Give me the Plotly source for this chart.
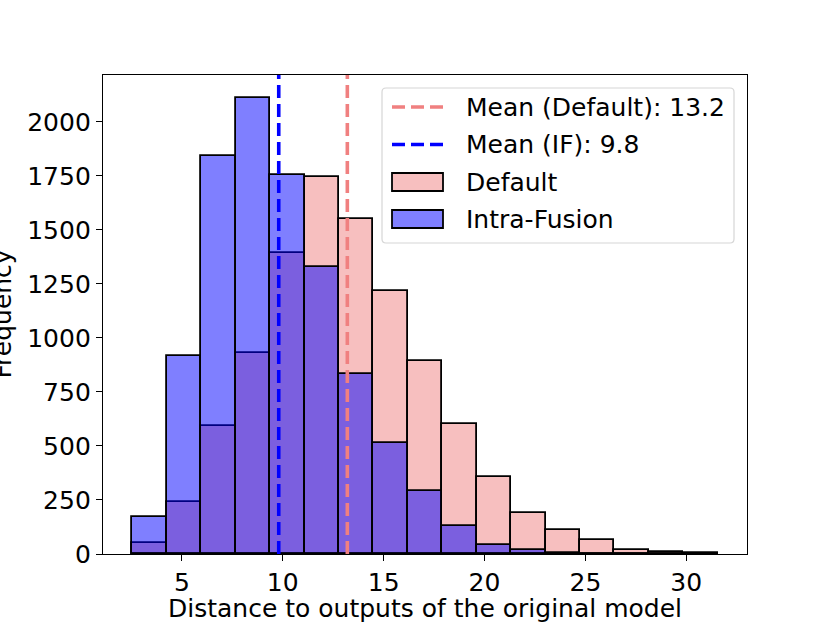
import plotly.graph_objects as go

# histogram bin edges (shared by both runs)
bin_edges = [2.54, 4.25, 5.95, 7.66, 9.37, 11.08, 12.78, 14.49, 16.20, 17.90,
             19.61, 21.32, 23.03, 24.73, 26.44, 28.15, 29.85, 31.56]

# counts per bin
default_counts = [51, 241, 593, 928, 1395, 1745, 1548, 1219, 895, 602,
                  355, 192, 111, 63, 20, 9, 3]
intra_fusion_counts = [171, 918, 1841, 2111, 1753, 1329, 833, 512, 292, 128,
                       40, 19, 5, 1, 0, 0, 0]

mean_default = 13.2
mean_if = 9.8

x_ticks = [5, 10, 15, 20, 25, 30]
y_ticks = [0, 250, 500, 750, 1000, 1250, 1500, 1750, 2000]

W, H = 830, 623
L, R, T, B = 103, 83, 75, 69

PINK = "rgba(240,128,128,0.5)"
BLUE = "rgba(0,0,255,0.5)"
PINK_LINE = "#F08080"
BLUE_LINE = "blue"
DASH = "13px,6px"

centers = [(a + b) / 2 for a, b in zip(bin_edges[:-1], bin_edges[1:])]
widths = [b - a for a, b in zip(bin_edges[:-1], bin_edges[1:])]

y_top = max(max(default_counts), max(intra_fusion_counts)) * 1.05
span = bin_edges[-1] - bin_edges[0]
x_range = [bin_edges[0] - 0.05 * span, bin_edges[-1] + 0.05 * span]

font = dict(family="DejaVu Sans", size=25, color="black")


def px(x, y):
    # pixel position on the page -> paper coords of the plot area
    return (x - L) / (W - L - R), 1 - (y - T) / (H - T - B)


fig = go.Figure()

fig.add_trace(go.Bar(
    x=centers, y=default_counts, width=widths, name="Default",
    marker=dict(color=PINK, line=dict(color="black", width=1.8)),
))
fig.add_trace(go.Bar(
    x=centers, y=intra_fusion_counts, width=widths, name="Intra-Fusion",
    marker=dict(color=BLUE, line=dict(color="black", width=1.8)),
))
fig.add_trace(go.Scatter(
    x=[mean_default, mean_default], y=[0, y_top], mode="lines",
    name=f"Mean (Default): {mean_default}",
    line=dict(color=PINK_LINE, width=3.6, dash=DASH),
))
fig.add_trace(go.Scatter(
    x=[mean_if, mean_if], y=[0, y_top], mode="lines",
    name=f"Mean (IF): {mean_if}",
    line=dict(color=BLUE_LINE, width=3.6, dash=DASH),
))

# hand-built legend, matplotlib style (rounded box)
bx0, by0 = px(382, 88)
bx1, by1 = px(734, 243)
rx, ry = 4 / (W - L - R), 4 / (H - T - B)
box_path = (f"M{bx0 + rx},{by0} L{bx1 - rx},{by0} Q{bx1},{by0} {bx1},{by0 - ry} "
            f"L{bx1},{by1 + ry} Q{bx1},{by1} {bx1 - rx},{by1} "
            f"L{bx0 + rx},{by1} Q{bx0},{by1} {bx0},{by1 + ry} "
            f"L{bx0},{by0 - ry} Q{bx0},{by0} {bx0 + rx},{by0} Z")
fig.add_shape(type="path", xref="paper", yref="paper", path=box_path,
              line=dict(color="#d6d6d6", width=1.2), fillcolor="rgba(255,255,255,0.8)")

legend_rows = [
    ("line", PINK_LINE, f"Mean (Default): {mean_default}"),
    ("line", BLUE_LINE, f"Mean (IF): {mean_if}"),
    ("rect", PINK, "Default"),
    ("rect", BLUE, "Intra-Fusion"),
]
row_y = [107, 144.5, 182, 219]
for (kind, col, label), yy in zip(legend_rows, row_y):
    sx0, sy = px(392, yy)
    sx1, _ = px(443, yy)
    if kind == "line":
        fig.add_shape(type="line", xref="paper", yref="paper",
                      x0=sx0, x1=sx1, y0=sy, y1=sy,
                      line=dict(color=col, width=3.6, dash=DASH))
    else:
        _, ry0 = px(392, yy - 9)
        _, ry1 = px(392, yy + 9)
        fig.add_shape(type="rect", xref="paper", yref="paper",
                      x0=sx0, x1=sx1, y0=ry1, y1=ry0,
                      fillcolor=col, line=dict(color="black", width=1.8))
    tx, ty = px(464, yy)
    fig.add_annotation(xref="paper", yref="paper", x=tx, y=ty, text=label,
                       showarrow=False, xanchor="left", yanchor="middle",
                       font=font)

# y title, partly outside the page like the original
ytx, yty = px(18, 314)
fig.add_annotation(xref="paper", yref="paper", x=ytx, y=yty, text="Frequency",
                   textangle=-90, showarrow=False, xanchor="right",
                   yanchor="middle", font=font)

fig.update_layout(
    width=W, height=H,
    margin=dict(l=L, r=R, t=T, b=B),
    paper_bgcolor="white", plot_bgcolor="white",
    barmode="overlay", bargap=0,
    font=font,
    showlegend=False,
)
fig.update_xaxes(
    range=x_range, tickvals=x_ticks, ticks="outside", ticklen=6, tickwidth=1.4,
    tickcolor="black", showline=True, linecolor="black", linewidth=1.4,
    mirror=True, showgrid=False, zeroline=False, automargin=False,
    title=dict(text="Distance to outputs of the original model", font=font, standoff=8),
)
fig.update_yaxes(
    range=[0, y_top], tickvals=y_ticks, ticks="outside", ticklen=6, tickwidth=1.4,
    tickcolor="black", showline=True, linecolor="black", linewidth=1.4,
    mirror=True, showgrid=False, zeroline=False, automargin=False,
)

fig.write_html("out.html", config={"displayModeBar": False},
               post_script="document.body.style.margin='0';")
